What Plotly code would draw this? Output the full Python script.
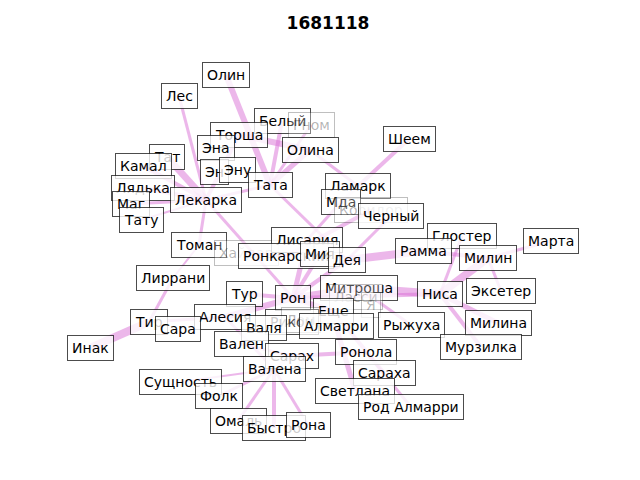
import plotly.graph_objects as go

# node labels and layout positions (layout units, y grows downward)
names = ["Олин", "Лес", "Белый", "Гном", "Торша", "Олина", "Эна", "Тат", "Камал", "Эн",
         "Эну", "Тата", "Лядька", "Маг", "Лекарка", "Тату", "Шеем", "Ламарк", "Мда", "Коридор",
         "Черный", "Томан", "Хайдар", "Лисария", "Ронкарский", "Мия", "Дея", "Глостер", "Рамма", "Милин",
         "Марта", "Лиррани", "Тур", "Рон", "Митроша", "Ласси", "Я", "Ниса", "Эксетер", "Еще",
         "Алесия", "Тир", "Сара", "Рикон", "Лом", "Алмарри", "Рыжуха", "Милина", "Валя", "Мурзилка",
         "Вален", "Сарах", "Ронола", "Валена", "Сараха", "Инак", "Сущность", "Фолк", "Светлана", "Род Алмарри",
         "Омаль", "Быстро", "Рона"]
node_x = [225, 178, 281, 310, 238, 309, 215, 166, 142, 213,
          236, 269, 142, 130, 205, 140, 408, 357, 340, 370,
          390, 198, 245, 306, 285, 319, 346, 461, 422, 487,
          550, 172, 243, 292, 358, 355, 370, 439, 500, 332,
          224, 148, 177, 291, 300, 335, 410, 497, 263, 480,
          240, 291, 365, 273, 383, 89, 179, 218, 354, 410,
          237, 273, 307]
node_y = [75, 96, 121, 125, 135, 150, 148, 157, 166, 172,
          170, 185, 188, 204, 200, 220, 139, 186, 202, 210,
          216, 245, 253, 240, 256, 254, 260, 236, 251, 258,
          241, 278, 294, 298, 288, 297, 305, 294, 291, 311,
          317, 322, 329, 322, 320, 326, 325, 323, 328, 347,
          344, 356, 352, 369, 373, 348, 382, 396, 391, 407,
          421, 428, 425]
faded = ["Гном", "Коридор", "Хайдар", "Ласси", "Я", "Лом"]

edges = [("Олин", "Тата", 6), ("Лес", "Лекарка", 3), ("Тат", "Лекарка", 7), ("Камал", "Лекарка", 4),
         ("Лядька", "Лекарка", 4), ("Маг", "Лекарка", 3), ("Тату", "Лекарка", 2), ("Лекарка", "Тата", 3),
         ("Лекарка", "Торша", 4), ("Торша", "Олина", 6), ("Белый", "Тата", 4), ("Гном", "Тата", 3),
         ("Олина", "Тата", 5), ("Олина", "Ламарк", 3), ("Тата", "Дея", 3), ("Лекарка", "Рон", 3),
         ("Лекарка", "Томан", 3), ("Шеем", "Мда", 4), ("Мда", "Лисария", 3), ("Коридор", "Ронкарский", 4),
         ("Черный", "Дея", 3), ("Дея", "Рамма", 8), ("Рамма", "Милин", 4), ("Глостер", "Ниса", 3),
         ("Милин", "Ниса", 8), ("Марта", "Милин", 3), ("Эксетер", "Милин", 3), ("Милина", "Ниса", 5),
         ("Мурзилка", "Ниса", 4), ("Ниса", "Митроша", 8), ("Ниса", "Рон", 4), ("Рон", "Мия", 4),
         ("Рон", "Лисария", 5), ("Рон", "Тур", 4), ("Рон", "Алесия", 6), ("Тир", "Инак", 8),
         ("Тир", "Лиррани", 3), ("Тир", "Алесия", 3), ("Алесия", "Валена", 3), ("Валена", "Сарах", 4),
         ("Валена", "Фолк", 3), ("Валена", "Омаль", 3), ("Валена", "Быстро", 4), ("Валена", "Рона", 3),
         ("Сарах", "Ронола", 4), ("Ронола", "Род Алмарри", 3), ("Еще", "Сараха", 4), ("Алмарри", "Светлана", 5),
         ("Рон", "Еще", 5), ("Митроша", "Рон", 7), ("Ронкарский", "Хайдар", 3), ("Сущность", "Валена", 2),
         ("Лиррани", "Томан", 2), ("Митроша", "Рыжуха", 3), ("Дея", "Рон", 4), ("Вален", "Сарах", 3)]

pos = {n: (x, y) for n, x, y in zip(names, node_x, node_y)}

fig = go.Figure()
for a, b, w in edges:
    fig.add_trace(go.Scatter(x=[pos[a][0], pos[b][0]], y=[pos[a][1], pos[b][1]], mode="lines",
                             line=dict(color="rgba(218,112,214,0.5)", width=w),
                             hoverinfo="skip", showlegend=False))

for n in names:
    f = n in faded
    fig.add_annotation(x=pos[n][0], y=pos[n][1], text=n, showarrow=False,
                       font=dict(family="DejaVu Sans", size=14,
                                 color="rgba(0,0,0,0.3)" if f else "black"),
                       bgcolor="rgba(255,255,255,0.3)" if f else "rgba(255,255,255,0.8)",
                       bordercolor="rgba(0,0,0,0.25)" if f else "rgba(0,0,0,0.7)",
                       borderwidth=1, borderpad=4)

fig.update_layout(
    width=640, height=480, margin=dict(l=0, r=0, t=0, b=0),
    plot_bgcolor="white", paper_bgcolor="white",
    title=dict(text="<b>1681118</b>", x=0.5, y=0.968, xanchor="center", yanchor="middle",
               font=dict(family="DejaVu Sans", size=17, color="black")),
    xaxis=dict(range=[7, 647], visible=False),
    yaxis=dict(range=[488, 8], visible=False),
)
fig.write_html("out.html")
